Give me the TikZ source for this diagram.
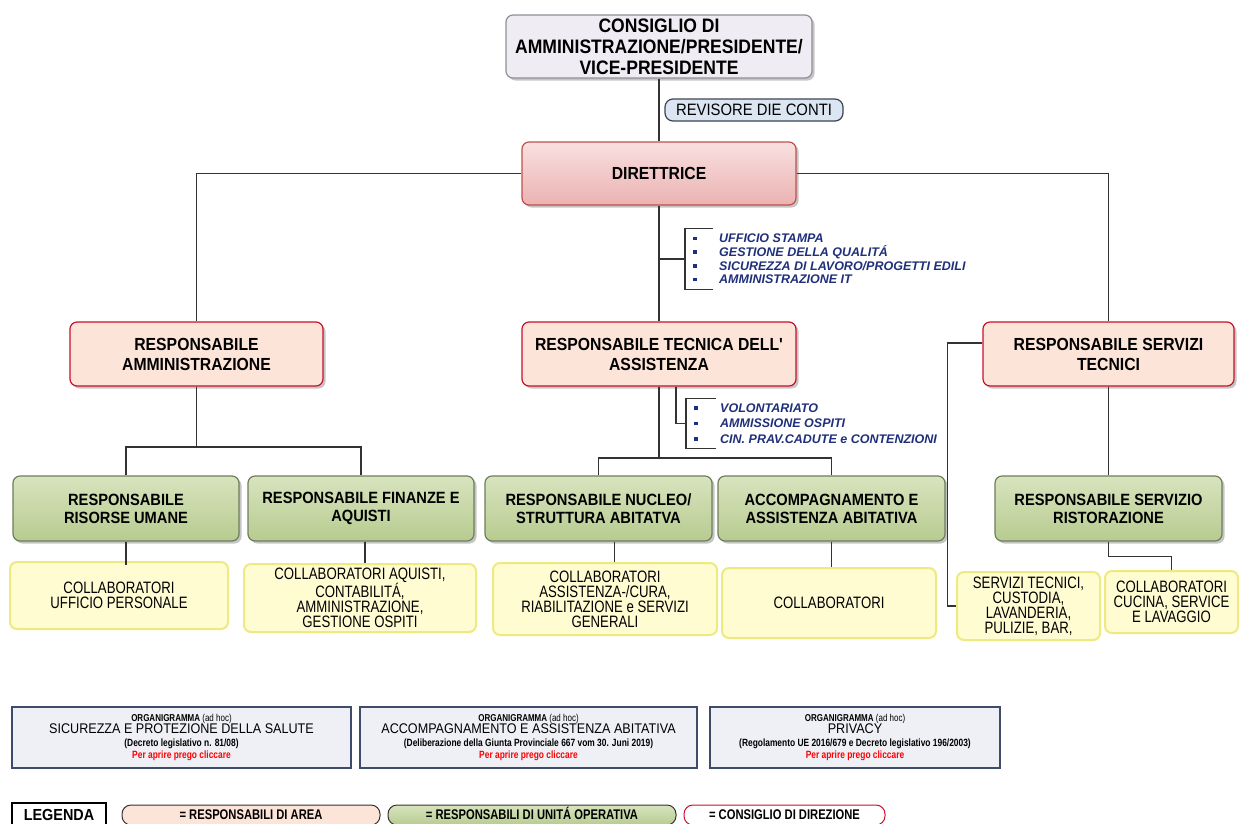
\documentclass[tikz,border=0pt]{standalone}
\usepackage{fontspec}
\setmainfont{Liberation Sans}
\newfontfamily\boxfont[FakeStretch=0.9]{Liberation Sans}
\newfontfamily\thinfont[FakeStretch=0.8]{Liberation Sans}
\usetikzlibrary{shadows}
\definecolor{boardfill}{HTML}{EFEDF3}
\definecolor{boardline}{HTML}{8F8F98}
\definecolor{dirtop}{HTML}{F9E0E0}
\definecolor{dirbot}{HTML}{EBB2B2}
\definecolor{dirline}{HTML}{C0504D}
\definecolor{areafill}{HTML}{FCE4D8}
\definecolor{arealine}{HTML}{C8102E}
\definecolor{unittop}{HTML}{D8E4BE}
\definecolor{unitbot}{HTML}{B7CB90}
\definecolor{unitline}{HTML}{6E7D5C}
\definecolor{stafffill}{HTML}{FFFCD2}
\definecolor{staffline}{HTML}{EEEA80}
\definecolor{docfill}{HTML}{EEF0F5}
\definecolor{docline}{HTML}{3F4B6B}
\definecolor{revfill}{HTML}{DCE6F2}
\definecolor{revline}{HTML}{3C4452}
\definecolor{listblue}{HTML}{1F2F7A}
\definecolor{linegray}{HTML}{333333}
\newcommand\setfs[2]{\fontsize{#1}{#2}\selectfont}
\newcommand\sqbullet{\makebox[26pt][l]{\raisebox{2.5pt}{\rule{3.5pt}{3.5pt}}}}
\newcommand\clicktext{{\color{red}Per aprire prego cliccare}}

\begin{document}
\begin{tikzpicture}[x=1pt,y=-1pt,
        conn/.style={draw=linegray,line width=1.2pt},
        box/.style={draw,rounded corners=7pt,align=center,inner sep=2pt,line width=1.2pt,
            drop shadow={shadow xshift=2.5pt,shadow yshift=-2.5pt,fill=black!45,opacity=.5}},
        boardbox/.style={box,fill=boardfill,draw=boardline,minimum width=306pt,minimum height=63pt,
            font=\boxfont\bfseries\setfs{19.5}{21}},
        revbox/.style={draw=revline,fill=revfill,rounded corners=8pt,line width=1.2pt,
            minimum width=178pt,minimum height=22pt,inner sep=1pt,font=\boxfont\setfs{16.5}{18}},
        headbox/.style={box,top color=dirtop,bottom color=dirbot,draw=dirline,
            minimum width=274pt,minimum height=63pt,font=\boxfont\bfseries\setfs{17.5}{20}},
        areabox/.style={box,fill=areafill,draw=arealine,minimum height=64pt,
            font=\boxfont\bfseries\setfs{17.5}{20}},
        unitbox/.style={box,top color=unittop,bottom color=unitbot,draw=unitline,
            minimum height=65pt,font=\boxfont\bfseries\setfs{16.3}{18}},
        staffbox/.style={draw=staffline,fill=stafffill,rounded corners=7pt,line width=2pt,
            align=center,inner sep=1pt,font=\thinfont\setfs{16.5}{15}},
        stafflist/.style={inner xsep=8pt,inner ysep=5pt,anchor=west,align=left,text=listblue,
            font=\bfseries\itshape\setfs{12.5}{13.7}},
        docbox/.style={draw=docline,fill=docfill,line width=1.2pt,minimum height=61pt,
            align=center,inner sep=1pt,font=\boxfont\setfs{14}{12.5}},
        legpill/.style={draw=linegray,rounded corners=9pt,line width=1pt,minimum height=20pt,
            text height=10pt,text depth=2pt,inner sep=1pt,font=\thinfont\bfseries\setfs{14}{16}}
    ]
        \useasboundingbox (0,0) rectangle (1239,823);
        \clip (0,0) rectangle (1239,823);

        \node[boardbox] (cda) at (659,46.5) {CONSIGLIO DI\\AMMINISTRAZIONE/PRESIDENTE/\\VICE-PRESIDENTE};
        \node[headbox] (dir) at (659,173.5) {DIRETTRICE};
        \node[areabox,minimum width=253pt] (amm) at (196.5,354) {RESPONSABILE\\AMMINISTRAZIONE};
        \node[areabox,minimum width=274pt] (tec) at (659,354) {RESPONSABILE TECNICA DELL'\\ASSISTENZA};
        \node[areabox,minimum width=251pt] (srv) at (1108.5,354) {RESPONSABILE SERVIZI\\TECNICI};

        \node[unitbox,minimum width=226pt] (hr) at (126,508.5) {RESPONSABILE\\RISORSE UMANE};
        \node[unitbox,minimum width=226pt] (fin) at (361,508.5) {RESPONSABILE FINANZE E\\AQUISTI};
        \node[unitbox,minimum width=227pt] (nuc) at (598.5,508.5) {RESPONSABILE NUCLEO/\\STRUTTURA ABITATVA};
        \node[unitbox,minimum width=227pt] (acc) at (831.5,508.5) {ACCOMPAGNAMENTO E\\ASSISTENZA ABITATIVA};
        \node[unitbox,minimum width=227pt] (ris) at (1108.5,508.5) {RESPONSABILE SERVIZIO\\RISTORAZIONE};

        \node[staffbox,minimum width=218pt,minimum height=67pt] (hrc) at (119,595.5) {COLLABORATORI\\UFFICIO PERSONALE};
        \node[staffbox,minimum width=232pt,minimum height=68pt] (finc) at (360,598) {COLLABORATORI  AQUISTI,\\CONTABILITÁ,\\AMMINISTRAZIONE,\\GESTIONE OSPITI};
        \node[staffbox,minimum width=224pt,minimum height=72pt] (nucc) at (605,599) {COLLABORATORI\\ASSISTENZA-/CURA,\\RIABILITAZIONE e SERVIZI\\GENERALI};
        \node[staffbox,minimum width=214pt,minimum height=70pt] (accc) at (829,603) {COLLABORATORI};
        \node[staffbox,minimum width=143pt,minimum height=68pt] (srvc) at (1028.5,606) {SERVIZI TECNICI,\\CUSTODIA,\\LAVANDERIA,\\PULIZIE, BAR,};
        \node[staffbox,minimum width=133pt,minimum height=62pt] (risc) at (1171.5,602) {COLLABORATORI\\CUCINA, SERVICE\\E LAVAGGIO};

        \node[revbox] (rev) at (754,110) {REVISORE DIE CONTI};
        \node[stafflist] (staff) at (685,259) {\sqbullet UFFICIO STAMPA\\\sqbullet GESTIONE DELLA QUALITÁ\\\sqbullet SICUREZZA DI LAVORO/PROGETTI EDILI\\\sqbullet AMMINISTRAZIONE IT};
        \node[stafflist,font=\bfseries\itshape\setfs{12.5}{15.5}] (staff2) at (686,423.5) {\sqbullet VOLONTARIATO\\\sqbullet AMMISSIONE OSPITI\\\sqbullet CIN. PRAV.CADUTE e CONTENZIONI};

        \coordinate (ammbus) at (196.5,447);
        \coordinate (tecbus) at (659,458);
        \draw[conn] (cda.south) -- (dir.north);
        \draw[conn] (dir.west) -| (amm.north);
        \draw[conn] (dir.east) -| (srv.north);
        \draw[conn] (dir.south) -- (tec.north);
        \draw[conn] (dir.south |- staff.west) -- (staff.west);
        \draw[conn] ([xshift=28pt]staff.north west) -- (staff.north west) -- (staff.south west) -- ([xshift=28pt]staff.south west);
        \draw[conn] ([xshift=17pt]tec.south) |- (staff2.west);
        \draw[conn] ([xshift=30pt]staff2.north west) -- (staff2.north west) -- (staff2.south west) -- ([xshift=30pt]staff2.south west);
        \draw[conn] (amm.south) -- (ammbus);
        \draw[conn] (hr.north) |- (ammbus) -| (fin.north);
        \draw[conn] (tec.south) -- (tecbus);
        \draw[conn] (nuc.north) |- (tecbus) -| (acc.north);
        \draw[conn] (srv.south) -- (ris.north);
        \draw[conn] ([yshift=11pt]srv.west) -- ++(-35,0) |- (srvc.west);
        \draw[conn] (hr.south) -- ([yshift=-4pt]hr.south |- hrc.north);
        \draw[conn] ([xshift=4pt]fin.south) -- ([xshift=4pt]fin.south |- finc.north);
        \draw[conn] ([xshift=16pt]nuc.south) -- ([xshift=16pt]nuc.south |- nucc.north);
        \draw[conn] (acc.south) -- (acc.south |- accc.north);
        \draw[conn] (ris.south) -- ++(0,15) -| (risc.north);

        \node[docbox,minimum width=339pt] (doc1) at (181.5,737.5) {{\thinfont\setfs{10}{12.5}\textbf{ORGANIGRAMMA} (ad hoc)}\\SICUREZZA E PROTEZIONE DELLA SALUTE\\{\thinfont\bfseries\setfs{10.5}{12.5}(Decreto legislativo n. 81/08)}\\{\thinfont\bfseries\setfs{10.5}{12.5}\clicktext}};
        \node[docbox,minimum width=337pt] (doc2) at (528.5,737.5) {{\thinfont\setfs{10}{12.5}\textbf{ORGANIGRAMMA} (ad hoc)}\\ACCOMPAGNAMENTO E ASSISTENZA ABITATIVA\\{\thinfont\bfseries\setfs{10.5}{12.5}(Deliberazione della Giunta Provinciale  667 vom 30. Juni 2019)}\\{\thinfont\bfseries\setfs{10.5}{12.5}\clicktext}};
        \node[docbox,minimum width=290pt] (doc3) at (855,737.5) {{\thinfont\setfs{10}{12.5}\textbf{ORGANIGRAMMA} (ad hoc)}\\PRIVACY\\{\thinfont\bfseries\setfs{10.5}{12.5}(Regolamento UE 2016/679 e Decreto legislativo 196/2003)}\\{\thinfont\bfseries\setfs{10.5}{12.5}\clicktext}};

        \node[draw=black,line width=1.2pt,minimum width=94pt,minimum height=24pt,inner sep=1pt,
            font=\boxfont\bfseries\setfs{16}{18}] (leg) at (59,815) {LEGENDA};
        \node[legpill,fill=areafill,minimum width=258pt] (legarea) at (251,815) {= RESPONSABILI DI AREA};
        \node[legpill,top color=unittop,bottom color=unitbot,minimum width=288pt] (legunit) at (532,815) {= RESPONSABILI DI UNITÁ OPERATIVA};
        \node[legpill,fill=white,draw=arealine,minimum width=201pt] (legboard) at (784.5,815) {= CONSIGLIO DI DIREZIONE};
    \end{tikzpicture}
\end{document}
